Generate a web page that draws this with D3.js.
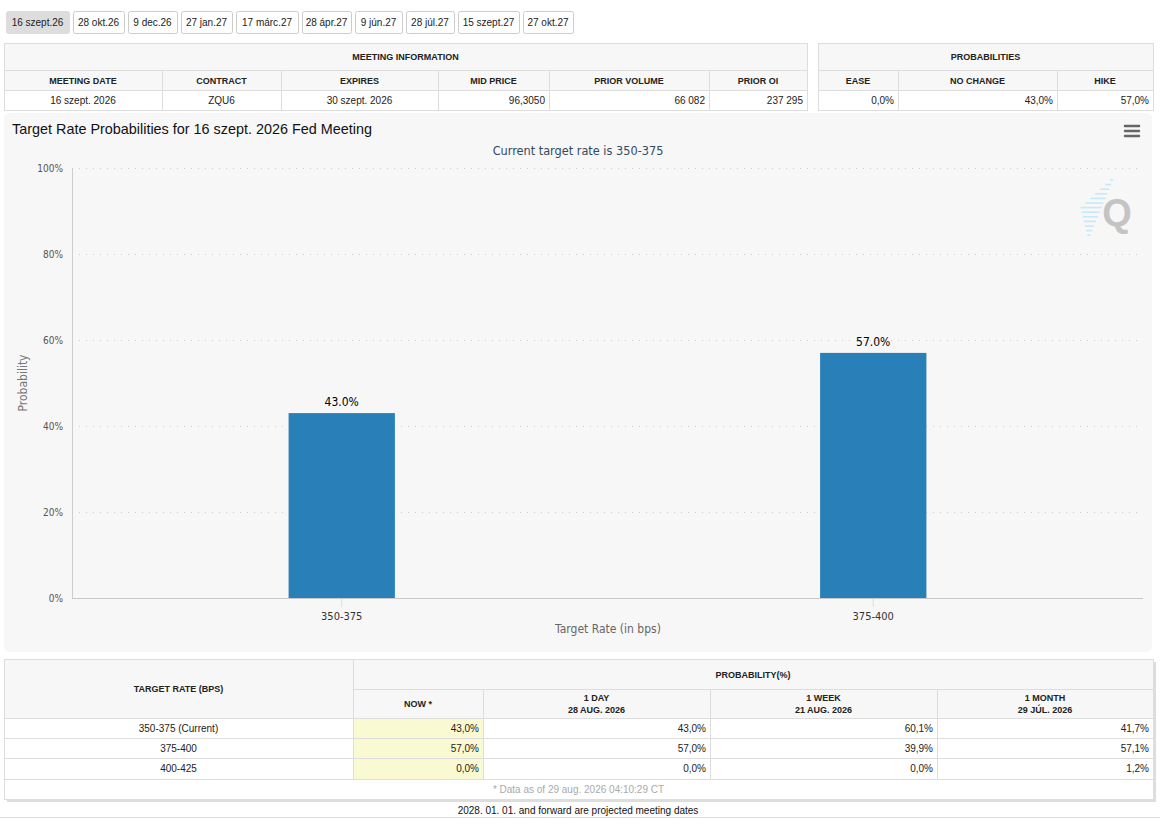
<!DOCTYPE html>
<html>
<head>
  <title>Target Rate Probabilities</title>
  <script src="https://d3js.org/d3.v7.min.js"></script>
  <style>
    body { margin: 0; background: #fff; }
    svg text { font-family: "Liberation Sans", Arial, sans-serif; }
  </style>
</head>
<body>
<svg id="page" width="1160" height="820"></svg>
<script>
  // ---- data ----
  const tabs = ["16 szept.26", "28 okt.26", "9 dec.26", "27 jan.27", "17 márc.27", "28 ápr.27", "9 jún.27", "28 júl.27", "15 szept.27", "27 okt.27"];

  const meetingHeaders = ["MEETING DATE", "CONTRACT", "EXPIRES", "MID PRICE", "PRIOR VOLUME", "PRIOR OI"];
  const meetingDate = "16 szept. 2026";
  const contract = "ZQU6";
  const expires = "30 szept. 2026";
  const midPrice = 96.3050;
  const priorVolume = 66082;
  const priorOI = 237295;

  const probHeaders = ["EASE", "NO CHANGE", "HIKE"];
  const probValues = [0.0, 43.0, 57.0];

  const rates = ["350-375", "375-400"];
  const rateProbs = [43.0, 57.0];
  const yTicks = [0, 20, 40, 60, 80, 100];

  const targetRates = ["350-375 (Current)", "375-400", "400-425"];
  const histHeaders = [["NOW *"], ["1 DAY", "28 AUG. 2026"], ["1 WEEK", "21 AUG. 2026"], ["1 MONTH", "29 JÚL. 2026"]];
  const probNow = [43.0, 57.0, 0.0];
  const prob1Day = [43.0, 57.0, 0.0];
  const prob1Week = [60.1, 39.9, 0.0];
  const prob1Month = [41.7, 57.1, 1.2];

  // hungarian style number formats
  const hu = d3.formatLocale({ decimal: ",", thousands: " ", grouping: [3], currency: ["", ""] });
  const pct = v => hu.format(".1f")(v) + "%";

  const svg = d3.select("#page");

  // ---- tabs ----
  const tabX = [6, 73, 128, 181, 236, 302, 355, 406, 458, 523, 577];
  const tabG = svg.append("g");
  tabs.forEach((t, i) => {
    tabG.append("rect")
      .attr("x", tabX[i] + 0.5).attr("y", 11.5)
      .attr("width", tabX[i + 1] - tabX[i] - 4).attr("height", 22)
      .attr("rx", 2)
      .attr("fill", i === 0 ? "#ddd" : "#fff")
      .attr("stroke", i === 0 ? "#ddd" : "#ccc");
    tabG.append("text")
      .attr("x", tabX[i] + (tabX[i + 1] - tabX[i] - 4) / 2).attr("y", 26)
      .attr("text-anchor", "middle").attr("font-size", 10).attr("fill", "#222")
      .text(t);
  });

  // ---- generic table cell helper ----
  function cell(g, x0, x1, y0, y1, opts) {
    g.append("rect")
      .attr("x", x0 + 0.5).attr("y", y0 + 0.5)
      .attr("width", x1 - x0).attr("height", y1 - y0)
      .attr("fill", opts.fill || "#fff")
      .attr("stroke", "#ddd");
    const lines = [].concat(opts.text);
    const anchor = opts.align === "right" ? "end" : "middle";
    const tx = opts.align === "right" ? x1 - 4 : (x0 + x1) / 2;
    const lh = 12;
    const cy = (y0 + y1) / 2 - (lines.length - 1) * lh / 2;
    lines.forEach((l, k) => {
      g.append("text")
        .attr("x", tx).attr("y", cy + k * lh + 3.5)
        .attr("text-anchor", anchor)
        .attr("font-size", opts.bold ? 9 : 10)
        .attr("font-weight", opts.bold ? "bold" : "normal")
        .attr("fill", opts.color || "#222")
        .text(l);
    });
  }

  // ---- meeting information table ----
  const mi = svg.append("g");
  const miCols = [4, 162, 281, 438, 549, 709, 807];
  const miRows = [43, 70, 90, 110];
  const miValues = [meetingDate, contract, expires, hu.format(".4f")(midPrice), hu.format(",d")(priorVolume), hu.format(",d")(priorOI)];
  cell(mi, miCols[0], miCols[6], miRows[0], miRows[1], { fill: "#f7f7f7", text: "MEETING INFORMATION", bold: true });
  meetingHeaders.forEach((h, i) => {
    cell(mi, miCols[i], miCols[i + 1], miRows[1], miRows[2], { fill: "#f7f7f7", text: h, bold: true });
    cell(mi, miCols[i], miCols[i + 1], miRows[2], miRows[3], { text: miValues[i], align: i >= 3 ? "right" : "center" });
  });

  // ---- probabilities table ----
  const pt = svg.append("g");
  const ptCols = [818, 898, 1057, 1153];
  cell(pt, ptCols[0], ptCols[3], miRows[0], miRows[1], { fill: "#f7f7f7", text: "PROBABILITIES", bold: true });
  probHeaders.forEach((h, i) => {
    cell(pt, ptCols[i], ptCols[i + 1], miRows[1], miRows[2], { fill: "#f7f7f7", text: h, bold: true });
    cell(pt, ptCols[i], ptCols[i + 1], miRows[2], miRows[3], { text: pct(probValues[i]), align: "right" });
  });

  // ---- chart panel ----
  const chartFont = "'DejaVu Sans Condensed', 'DejaVu Sans', sans-serif";
  const chart = svg.append("g");
  chart.append("rect")
    .attr("x", 4).attr("y", 113).attr("width", 1148).attr("height", 539)
    .attr("rx", 5).attr("fill", "#f7f7f7");

  chart.append("text")
    .attr("x", 12).attr("y", 134)
    .attr("font-size", 14.4).attr("fill", "#111")
    .text("Target Rate Probabilities for " + meetingDate + " Fed Meeting");

  chart.append("text")
    .attr("x", 578).attr("y", 155)
    .attr("text-anchor", "middle")
    .style("font-family", chartFont).attr("font-size", 12.6).attr("fill", "#34495e")
    .text("Current target rate is " + rates[0]);

  // hamburger menu
  [126, 131, 136].forEach(yy => {
    chart.append("line")
      .attr("x1", 1125).attr("x2", 1139).attr("y1", yy).attr("y2", yy)
      .attr("stroke", "#666").attr("stroke-width", 2.5).attr("stroke-linecap", "round");
  });

  // watermark logo: slanted light-blue stripes behind a grey Q
  const logo = chart.append("g");
  for (let k = 0; k < 13; k++) {
    const yy = 180 + k * 4.6;
    const xr = 1113 - k * 1.9;
    const len = 3 + Math.min(k, 12 - k) * 3;
    logo.append("line")
      .attr("x1", xr - len).attr("x2", xr)
      .attr("y1", yy).attr("y2", yy)
      .attr("stroke", "#c6e9f8").attr("stroke-width", 1.6);
  }
  logo.append("text")
    .attr("x", 1117).attr("y", 226)
    .attr("text-anchor", "middle")
    .attr("font-size", 38).attr("font-weight", "bold").attr("fill", "#c4c4c4")
    .text("Q");

  // scales
  const plot = { left: 72, right: 1143, top: 168, bottom: 598 };
  const y = d3.scaleLinear().domain([0, 100]).range([plot.bottom, plot.top]);
  const x = d3.scaleBand().domain(rates).range([76, 1139]);
  const barW = x.bandwidth() * 0.2;

  // grid
  chart.append("g")
    .selectAll("line")
    .data(yTicks.filter(t => t > 0))
    .join("line")
    .attr("x1", plot.left).attr("x2", plot.right)
    .attr("y1", d => y(d) + 0.5).attr("y2", d => y(d) + 0.5)
    .attr("stroke", "#ccc").attr("stroke-dasharray", "1,6");

  // y axis
  const yAxis = chart.append("g")
    .attr("transform", `translate(${plot.left - 6},0)`)
    .call(d3.axisLeft(y).tickValues(yTicks).tickSize(0).tickFormat(d => d + "%"));
  yAxis.select(".domain").remove();
  yAxis.selectAll("text")
    .style("font-family", chartFont).attr("font-size", 10).attr("fill", "#555").attr("dx", 0);

  chart.append("line")
    .attr("x1", plot.left + 0.5).attr("x2", plot.left + 0.5)
    .attr("y1", plot.top).attr("y2", plot.bottom)
    .attr("stroke", "#ccc");

  chart.append("text")
    .attr("transform", `translate(27,${(plot.top + plot.bottom) / 2}) rotate(-90)`)
    .attr("text-anchor", "middle")
    .style("font-family", chartFont).attr("font-size", 12).attr("fill", "#777")
    .text("Probability");

  // bars
  chart.append("g")
    .selectAll("rect")
    .data(rates)
    .join("rect")
    .attr("x", d => x(d) + x.bandwidth() / 2 - barW / 2)
    .attr("y", (d, i) => y(rateProbs[i]))
    .attr("width", barW)
    .attr("height", (d, i) => y(0) - y(rateProbs[i]))
    .attr("fill", "#2980b9");

  chart.append("g")
    .selectAll("text")
    .data(rates)
    .join("text")
    .attr("x", d => x(d) + x.bandwidth() / 2)
    .attr("y", (d, i) => y(rateProbs[i]) - 7)
    .attr("text-anchor", "middle")
    .style("font-family", chartFont).attr("font-size", 12).attr("fill", "#000")
    .text((d, i) => rateProbs[i].toFixed(1) + "%");

  // x axis
  const xAxis = chart.append("g")
    .attr("transform", `translate(0,${plot.bottom})`)
    .call(d3.axisBottom(x).tickSize(9).tickPadding(5));
  xAxis.select(".domain").remove();
  xAxis.selectAll(".tick line").attr("stroke", "#ddd");
  xAxis.selectAll("text")
    .style("font-family", chartFont).attr("font-size", 11).attr("fill", "#333");

  chart.append("line")
    .attr("x1", plot.left).attr("x2", plot.right)
    .attr("y1", plot.bottom + 0.5).attr("y2", plot.bottom + 0.5)
    .attr("stroke", "#c8c8c8");

  chart.append("text")
    .attr("x", 608).attr("y", 633)
    .attr("text-anchor", "middle")
    .style("font-family", chartFont).attr("font-size", 12).attr("fill", "#666")
    .text("Target Rate (in bps)");

  // ---- history table ----
  const ht = svg.append("g");
  const htCols = [4, 353, 483, 710, 937, 1153];
  const htRows = [659, 689, 718, 738, 758, 779, 799];

  // shadow
  ht.append("rect")
    .attr("x", 7).attr("y", 662).attr("width", 1149).attr("height", 140)
    .attr("fill", "#ddd");

  cell(ht, htCols[0], htCols[1], htRows[0], htRows[2], { fill: "#f7f7f7", text: "TARGET RATE (BPS)", bold: true });
  cell(ht, htCols[1], htCols[5], htRows[0], htRows[1], { fill: "#f7f7f7", text: "PROBABILITY(%)", bold: true });
  histHeaders.forEach((h, i) => {
    cell(ht, htCols[i + 1], htCols[i + 2], htRows[1], htRows[2], { fill: "#f7f7f7", text: h, bold: true });
  });
  const series = [probNow, prob1Day, prob1Week, prob1Month];
  targetRates.forEach((r, j) => {
    cell(ht, htCols[0], htCols[1], htRows[j + 2], htRows[j + 3], { text: r });
    series.forEach((s, i) => {
      cell(ht, htCols[i + 1], htCols[i + 2], htRows[j + 2], htRows[j + 3], {
        text: pct(s[j]), align: "right", fill: i === 0 ? "#fafad2" : "#fff"
      });
    });
  });
  cell(ht, htCols[0], htCols[5], htRows[5], htRows[6], { text: "* Data as of 29 aug. 2026 04:10:29 CT", color: "#aaa" });

  svg.append("text")
    .attr("x", 578).attr("y", 814)
    .attr("text-anchor", "middle").attr("font-size", 10).attr("fill", "#111")
    .text("2028. 01. 01. and forward are projected meeting dates");
  svg.append("line")
    .attr("x1", 0).attr("x2", 1160).attr("y1", 817.5).attr("y2", 817.5)
    .attr("stroke", "#ddd");
</script>
</body>
</html>
